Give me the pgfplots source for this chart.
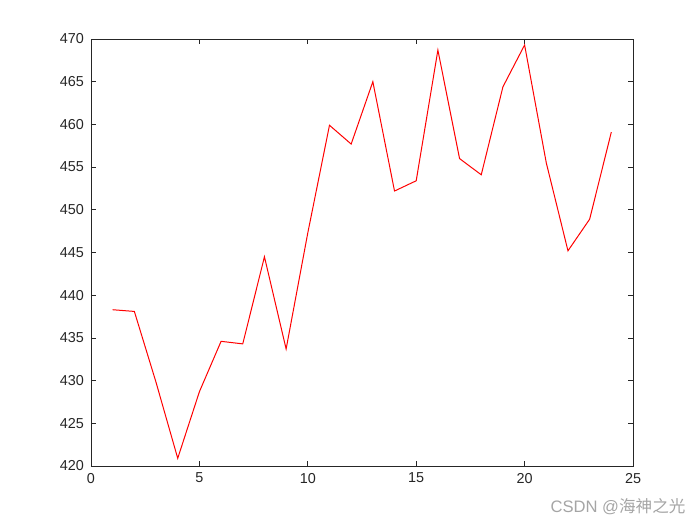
\documentclass[border=0pt]{standalone}
\usepackage{fontspec}
\setmainfont{Liberation Sans}
\newfontfamily\cjk{Noto Sans CJK SC}
\usepackage{pgfplots}
\pgfplotsset{compat=1.18}
\definecolor{axgray}{RGB}{38,38,38}
\definecolor{wmgray}{RGB}{165,165,165}

\begin{document}
\begin{tikzpicture}
\path[use as bounding box] (-45.5pt,-29.5pt) rectangle (304.5pt,233pt);
\begin{axis}[
    scale only axis,
    width=271pt,
    height=213.5pt,
    xmin=0, xmax=25,
    ymin=420, ymax=470,
    xtick={0,5,10,15,20,25},
    ytick={420,425,430,435,440,445,450,455,460,465,470},
    tick align=inside,
    major tick length=2.6pt,
    axis line style={axgray, line width=0.4pt},
    every tick/.style={axgray, line width=0.4pt},
    tick label style={font=\fontsize{7.2}{8.5}\selectfont, text=axgray},
    /pgf/number format/assume math mode=true,
    /pgf/number format/1000 sep={},
]
\addplot[red, line width=0.5pt] coordinates {
    (1, 438.3)
    (2, 438.1)
    (3, 429.8)
    (4, 420.9)
    (5, 428.7)
    (6, 434.6)
    (7, 434.3)
    (8, 444.5)
    (9, 433.7)
    (10, 447.3)
    (11, 459.9)
    (12, 457.7)
    (13, 465.0)
    (14, 452.2)
    (15, 453.4)
    (16, 468.7)
    (17, 456.0)
    (18, 454.1)
    (19, 464.4)
    (20, 469.3)
    (21, 455.5)
    (22, 445.2)
    (23, 448.9)
    (24, 459.1)
};
\end{axis}
\node[text=wmgray, font=\fontsize{8.3}{10}\selectfont] at (263.5pt,-20.5pt) {CSDN @{\cjk 海神之光}};
\end{tikzpicture}
\end{document}
